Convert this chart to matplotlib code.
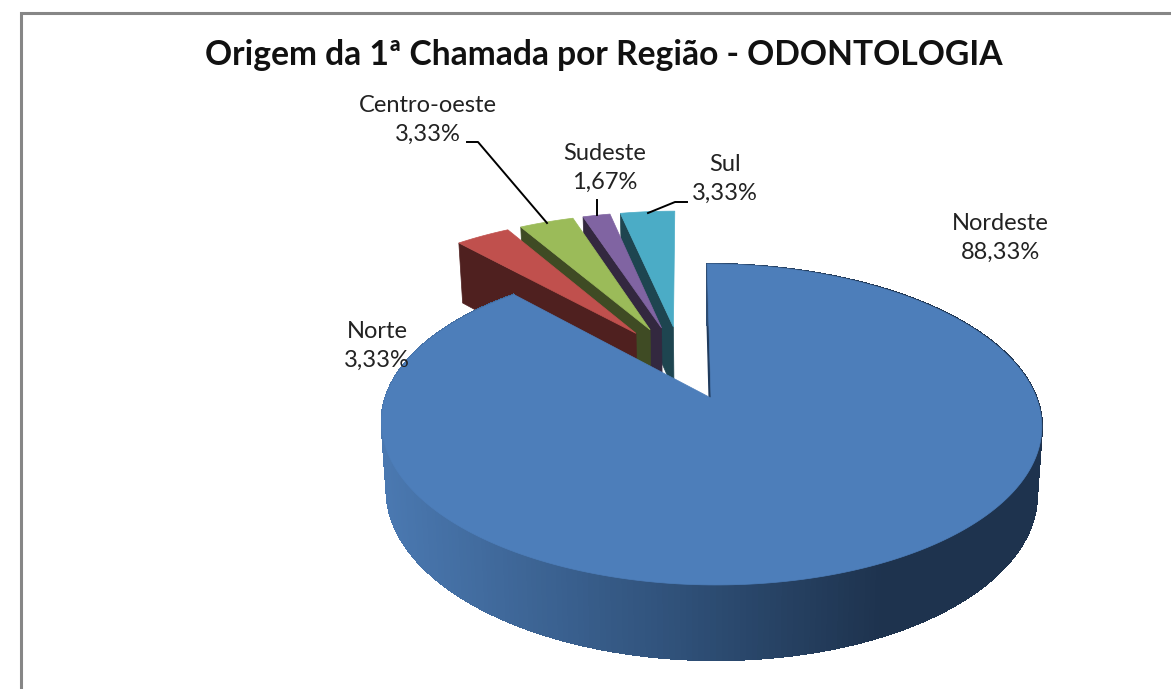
import matplotlib
matplotlib.use("Agg")
import matplotlib.pyplot as plt
from matplotlib.patches import Polygon
import numpy as np

regioes = ["Nordeste", "Norte", "Centro-oeste", "Sudeste", "Sul"]
valores = [88.33, 3.33, 3.33, 1.67, 3.33]
rotulos = ["88,33%", "3,33%", "3,33%", "1,67%", "3,33%"]
cores_topo = ["#4D7EBA", "#C0504D", "#9BBB59", "#8064A2", "#4BACC6"]
cores_lado = ["#1F3A5C", "#4F201F", "#3F4B24", "#33283F", "#1E4550"]

# label centres in pixels
pos_rotulos = [(1000, 238), (377, 346), (428, 120), (605, 168), (725, 179)]

titulo = "Origem da 1ª Chamada por Região - ODONTOLOGIA"

# perspective of the pie, fitted by eye on the picture
CX, CY = 711, 398
A, B, K = 156.1, 325.5, -0.165
SHEAR = 4.5
EXPLODE = 0.255


def topo(u, v):
    d = 1 + K * v
    return CX + (B * u + SHEAR * v) / d, CY + A * v / d


def base(u, v):
    x, y = topo(u, v)
    return CX + 0.985 * (x - CX), y + 66.8 + 0.0439 * (y - CY)


def disco(ang):
    # angle clockwise from the top of the pie
    return np.sin(ang), -np.cos(ang)


fig = plt.figure(figsize=(11.71, 6.89), dpi=100)
ax = fig.add_axes([0, 0, 1, 1])
ax.set_xlim(0, 1171)
ax.set_ylim(689, 0)
ax.axis("off")

# chart frame, right and bottom sides are cut off in the original
ax.plot([21, 21, 1171], [689, 13, 13], color="#868686", lw=2.2, solid_joinstyle="miter")

fracs = np.array(valores) / sum(valores) * 2 * np.pi
fim = np.cumsum(fracs)
ini = fim - fracs
meio = (ini + fim) / 2

# real centre of the pie, slice 0 sits at the origin of the perspective
c0 = -EXPLODE * np.array(disco(meio[0]))


def fatia(i):
    du, dv = disco(meio[i])
    cu, cv = c0[0] + EXPLODE * du, c0[1] + EXPLODE * dv
    ang = np.linspace(ini[i], fim[i], max(int(np.degrees(fracs[i])), 8) + 1)
    au, av = disco(ang)
    return cu, cv, cu + au, cv + av


def desenha_pequena(i):
    cu, cv, u, v = fatia(i)
    # radial wall on the left side of the slice
    q = [topo(cu, cv), topo(u[0], v[0]), base(u[0], v[0]), base(cu, cv)]
    ax.add_patch(Polygon(q, closed=True, fc=cores_lado[i], ec=cores_lado[i], lw=0.5))
    xs, ys = topo(np.r_[cu, u], np.r_[cv, v])
    ax.add_patch(Polygon(np.c_[xs, ys], closed=True, fc=cores_topo[i], ec=cores_topo[i], lw=0.5))


# back slices first
for i in [4, 3, 2, 1]:
    desenha_pequena(i)

# big slice, wall at its start edge
cu, cv, u, v = fatia(0)
q = [topo(cu, cv), topo(u[0], v[0]), base(u[0], v[0]), base(cu, cv)]
ax.add_patch(Polygon(q, closed=True, fc="#1F3A5C", ec="#1F3A5C", lw=1.0))

# outer wall as small shaded pieces
ang = np.linspace(ini[0], fim[0], 361)
au, av = disco(ang)
u, v = cu + au, cv + av
x0, x1 = 385.0, 880.0
c_claro = np.array([0x4A, 0x78, 0xB0]) / 255
c_medio = np.array([0x2F, 0x50, 0x78]) / 255
c_escuro = np.array([0x1E, 0x33, 0x4E]) / 255
for j in range(len(u) - 1):
    xa, ya = topo(u[j], v[j])
    xb, yb = topo(u[j + 1], v[j + 1])
    xc, yc = base(u[j + 1], v[j + 1])
    xd, yd = base(u[j], v[j])
    t = np.clip(((xa + xb) / 2 - x0) / (x1 - x0), 0, 1)
    if t < 0.6:
        cor = c_claro + (c_medio - c_claro) * t / 0.6
    else:
        cor = c_medio + (c_escuro - c_medio) * (t - 0.6) / 0.4
    # no antialiasing here, otherwise the seams show up as stripes
    ax.add_patch(Polygon([(xa, ya), (xb, yb), (xc, yc), (xd, yd)], closed=True, fc=cor, ec=cor,
                         lw=1.0, antialiased=False))

xs, ys = topo(np.r_[cu, u], np.r_[cv, v])
ax.add_patch(Polygon(np.c_[xs, ys], closed=True, fc=cores_topo[0], ec=cores_topo[0], lw=0.5))

# leader lines
ax.plot([467, 478, 547], [142, 142, 223], color="black", lw=1.4)
ax.plot([597, 597], [200, 215], color="black", lw=1.4)
ax.plot([648, 675, 687], [213, 202, 202], color="black", lw=1.4)

for nome, rot, (px, py) in zip(regioes, rotulos, pos_rotulos):
    ax.text(px, py, nome + "\n" + rot, ha="center", va="center", fontsize=17,
            family="Lato", fontweight="normal", color="#222222", linespacing=1.5)

ax.text(604, 55, titulo, ha="center", va="center", fontsize=24.2, family="Lato",
        fontweight="bold", color="#111111")

plt.savefig("out.png", dpi=100)
